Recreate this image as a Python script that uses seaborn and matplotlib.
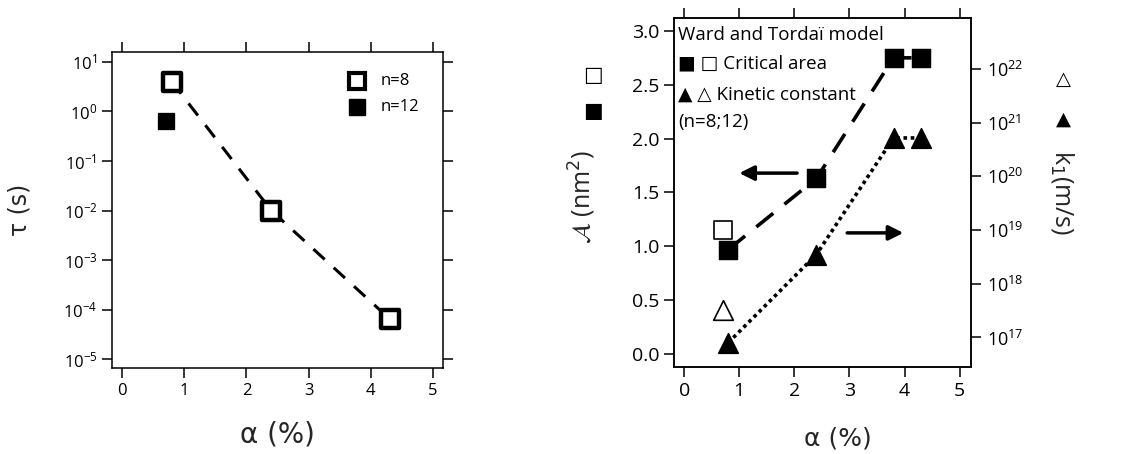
import numpy as np
import pandas as pd
import matplotlib
matplotlib.use("Agg")
import matplotlib.pyplot as plt
import seaborn as sns

# ============================================================
# DATA
# ============================================================

# left panel: relaxation time vs alpha
tau_alpha_n8 = [0.8, 2.4, 4.3]
tau_n8 = [4.0, 0.01, 6.5e-5]
tau_alpha_n12 = [0.7]
tau_n12 = [0.65]

# right panel: critical area (left axis) and kinetic constant (right axis)
area_alpha_n12 = [0.8, 2.4, 3.8, 4.3]
area_n12 = [0.97, 1.63, 2.75, 2.75]
area_alpha_n8 = [0.7]
area_n8 = [1.15]

k1_alpha_n12 = [0.8, 2.4, 3.8, 4.3]
k1_n12 = [8e16, 3.5e18, 5.2e20, 5.2e20]
k1_alpha_n8 = [0.7]
k1_n8 = [3.3e17]

X_TICKS = [0, 1, 2, 3, 4, 5]
TAU_TICKS = [1e-5, 1e-4, 1e-3, 1e-2, 1e-1, 1e0, 1e1]
AREA_TICKS = [0.0, 0.5, 1.0, 1.5, 2.0, 2.5, 3.0]
K1_TICKS = [1e17, 1e18, 1e19, 1e20, 1e21, 1e22]

# ============================================================
# STYLE
# ============================================================

sns.set_theme(style="ticks")
plt.rcParams["font.family"] = ["Open Sans", "DejaVu Sans"]
plt.rcParams["axes.linewidth"] = 1.1
plt.rcParams["axes.edgecolor"] = "black"
plt.rcParams["xtick.color"] = "black"
plt.rcParams["ytick.color"] = "black"
plt.rcParams["text.color"] = "black"

GREEK = ["DejaVu Sans", "Open Sans"]

fig = plt.figure(figsize=(11.43, 4.54), dpi=100)
ax1 = fig.add_axes([0.098, 0.1894, 0.2896, 0.696])
ax2 = fig.add_axes([0.5894, 0.1916, 0.2598, 0.7688])
ax3 = ax2.twinx()

# ============================================================
# LEFT PANEL
# ============================================================

df_n8 = pd.DataFrame({"alpha": tau_alpha_n8, "tau": tau_n8})
df_n12 = pd.DataFrame({"alpha": tau_alpha_n12, "tau": tau_n12})

sns.lineplot(data=df_n8, x="alpha", y="tau", ax=ax1, color="black",
             linewidth=2.2, dashes=[(5, 4)], style=[0] * len(df_n8),
             legend=False, sort=False, estimator=None)
sns.scatterplot(data=df_n8, x="alpha", y="tau", ax=ax1, marker="s", s=160,
                facecolor="white", edgecolor="black", linewidth=3.2,
                legend=False, zorder=3)
sns.scatterplot(data=df_n12, x="alpha", y="tau", ax=ax1, marker="s", s=140,
                color="black", edgecolor="black", legend=False, zorder=3)

ax1.set_yscale("log")
ax1.set_xlim(-0.16, 5.16)
ax1.set_ylim(10 ** -5.18, 10 ** 1.2)
ax1.set_xticks(X_TICKS)
ax1.set_yticks(TAU_TICKS)
ax1.minorticks_off()
ax1.tick_params(direction="out", length=7, width=1.1, labelsize=12,
                top=True, right=True)
ax1.set_xlabel("α (%)", fontsize=20, family=GREEK)
ax1.set_ylabel("τ (s)", fontsize=17, family=GREEK)
ax1.xaxis.set_label_coords(0.5, -0.165)
ax1.yaxis.set_label_coords(-0.242, 0.5)

# legend keys
ax1.plot([0.74], [0.908], marker="s", ms=12, mfc="white", mec="black",
         mew=3, transform=ax1.transAxes, clip_on=False)
ax1.plot([0.74], [0.826], marker="s", ms=11, mfc="black", mec="black",
         transform=ax1.transAxes, clip_on=False)
ax1.text(0.81, 0.908, "n=8", transform=ax1.transAxes, fontsize=12,
         va="center")
ax1.text(0.81, 0.826, "n=12", transform=ax1.transAxes, fontsize=12,
         va="center")

# ============================================================
# RIGHT PANEL
# ============================================================

df_area12 = pd.DataFrame({"alpha": area_alpha_n12, "area": area_n12})
df_area8 = pd.DataFrame({"alpha": area_alpha_n8, "area": area_n8})
df_k12 = pd.DataFrame({"alpha": k1_alpha_n12, "k1": k1_n12})
df_k8 = pd.DataFrame({"alpha": k1_alpha_n8, "k1": k1_n8})

sns.lineplot(data=df_area12, x="alpha", y="area", ax=ax2, color="black",
             linewidth=2.6, dashes=[(6, 4)], style=[0] * len(df_area12),
             legend=False, sort=False, estimator=None)
sns.scatterplot(data=df_area8, x="alpha", y="area", ax=ax2, marker="s",
                s=170, facecolor="white", edgecolor="black", linewidth=1.2,
                legend=False, zorder=3)
sns.scatterplot(data=df_area12, x="alpha", y="area", ax=ax2, marker="s",
                s=170, color="black", edgecolor="black", legend=False,
                zorder=4)

sns.lineplot(data=df_k12, x="alpha", y="k1", ax=ax3, color="black",
             linewidth=2.6, dashes=[(1, 1)], style=[0] * len(df_k12),
             legend=False, sort=False, estimator=None)
sns.scatterplot(data=df_k8, x="alpha", y="k1", ax=ax3, marker="^",
                s=200, facecolor="white", edgecolor="black", linewidth=1.2,
                legend=False, zorder=3)
sns.scatterplot(data=df_k12, x="alpha", y="k1", ax=ax3, marker="^",
                s=200, color="black", edgecolor="black", legend=False,
                zorder=4)

ax2.set_xlim(-0.19, 5.2)
ax2.set_ylim(-0.12, 3.12)
ax2.set_xticks(X_TICKS)
ax2.set_yticks(AREA_TICKS)
ax2.set_yticklabels([f"{v:.1f}" for v in AREA_TICKS])
ax2.tick_params(direction="out", length=7, width=1.1, labelsize=14,
                top=True)
ax2.set_xlabel("α (%)", fontsize=18, family=GREEK)
ax2.set_ylabel(r"$\mathcal{A}$ (nm$^2$)", fontsize=18)
ax2.xaxis.set_label_coords(0.553, -0.17)
ax2.yaxis.set_label_coords(-0.255, 0.487)

ax3.set_yscale("log")
ax3.set_ylim(10 ** 16.45, 10 ** 22.95)
ax3.set_yticks(K1_TICKS)
ax3.minorticks_off()
ax3.tick_params(direction="out", length=7, width=1.1, labelsize=13, pad=5)
ax3.set_ylabel(r"k$_1$(m/s)", fontsize=18, rotation=270)
ax3.yaxis.set_label_coords(1.355, 0.499)
ax3.set_xlabel("")

# in-plot key text
ax2.text(0.015, 0.951, "Ward and Tordaï model", transform=ax2.transAxes,
         fontsize=13.5, va="center")
ax2.text(0.015, 0.871, "■ □ Critical area", transform=ax2.transAxes,
         fontsize=13.5, va="center")
ax2.text(0.015, 0.779, "▲ △ Kinetic constant", transform=ax2.transAxes,
         fontsize=13.5, va="center")
ax2.text(0.015, 0.702, "(n=8;12)", transform=ax2.transAxes,
         fontsize=13.5, va="center")

# arrows pointing to the relevant axis
ax2.annotate("", xy=(1.0, 1.68), xytext=(2.05, 1.68),
             arrowprops=dict(arrowstyle="-|>", color="black", lw=2.5,
                             mutation_scale=22, shrinkA=0, shrinkB=0))
ax2.annotate("", xy=(3.98, 1.125), xytext=(2.96, 1.125),
             arrowprops=dict(arrowstyle="-|>", color="black", lw=2.5,
                             mutation_scale=22, shrinkA=0, shrinkB=0))

# marker keys next to the axis titles
fig.text(0.519, 0.833, "□", fontsize=15, ha="center", va="center")
fig.text(0.519, 0.755, "■", fontsize=15, ha="center", va="center")
fig.text(0.930, 0.824, "△", fontsize=14, ha="center", va="center")
fig.text(0.930, 0.736, "▲", fontsize=14, ha="center", va="center")

fig.savefig("out.png", dpi=100)
